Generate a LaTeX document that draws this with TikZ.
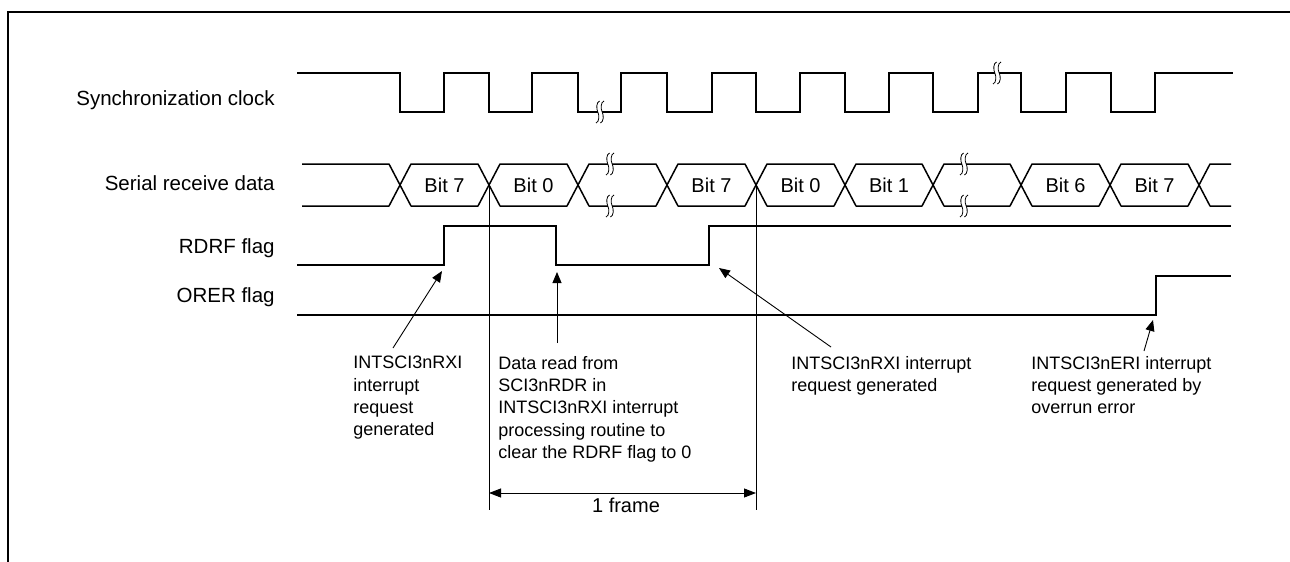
\documentclass[tikz,border=0pt]{standalone}
\usepackage{fontspec}
\setmainfont{Liberation Sans}
\usetikzlibrary{arrows.meta,calc}

\tikzset{
  sig/.style={line width=0.75pt},
  cell/.style={sig,line join=round},
  hair/.style={line width=0.45pt},
  ptr/.style={hair,-{Triangle[length=5.5pt,width=4.5pt]}},
  dimline/.style={hair,{Triangle[length=6pt,width=4.5pt]}-{Triangle[length=6pt,width=4.5pt]}},
  siglabel/.style={font=\fontsize{10.25}{12}\selectfont,anchor=base east,inner sep=0pt},
  bitlabel/.style={font=\fontsize{10}{12}\selectfont,anchor=base,inner sep=0pt},
  note/.style={font=\fontsize{9}{11.1}\selectfont,align=left,anchor=north west,inner sep=0pt},
  wavebreak/.pic={
    \fill[white] (-2.2,-2.5) rectangle (2.2,2.5);
    \foreach \d in {-2.2,2.2}
      \draw[line width=0.4pt] (\d+1.8,-11) .. controls (\d-1.6,-10) and (\d-1.6,-3) .. (\d,0)
            .. controls (\d+1.6,3) and (\d+1.6,10) .. (\d-1.8,11);
  }
}

\begin{document}
\begin{tikzpicture}[x=0.5pt,y=-0.5pt]
  \useasboundingbox (0,0) rectangle (1290,562);

  % Cadre
  \draw[line width=0.65pt] (8,562) -- (8,12) -- (1290,12);

  % Noms des signaux
  \node[siglabel] (lclk)  at (275,105) {Synchronization clock};
  \node[siglabel] (ldata) at (275,190) {Serial receive data};
  \node[siglabel] (lrdrf) at (275,253) {RDRF flag};
  \node[siglabel] (lorer) at (275,302) {ORER flag};

  % Horloge
  \draw[sig] (297,73)
    \foreach \a/\b in {400/444, 489/532, 578/621, 667/712, 756/800,
                       845/889, 933/978, 1021/1066, 1111/1155} {
      -- (\a,73) -- (\a,112) -- (\b,112) -- (\b,73)
    } -- (1233,73);

  % Données reçues
  \draw[cell] (302,164) -- (389,164) -- (400,185) -- (389,206) -- (302,206);
  \foreach \a/\b in {400/489, 489/578, 578/667, 667/756, 756/845,
                     845/933, 933/1021, 1021/1110, 1110/1199} {
    \draw[cell] (\a,185) -- (\a+11,164) -- (\b-11,164) -- (\b,185)
          -- (\b-11,206) -- (\a+11,206) -- cycle;
  }
  \draw[cell] (1231,164) -- (1210,164) -- (1199,185) -- (1210,206) -- (1231,206);
  \foreach \a/\b/\t in {400/489/Bit 7, 489/578/Bit 0, 667/756/Bit 7, 756/845/Bit 0,
                        845/933/Bit 1, 1021/1110/Bit 6, 1110/1199/Bit 7} {
    \node[bitlabel] (bit\a) at ({(\a+\b)/2},192.5) {\t};
  }

  % Ruptures
  \foreach \p in {(600,112), (997,73), (610,164), (610,206), (964,164), (964,206)} {
    \pic at \p {wavebreak};
  }

  % Drapeaux
  \draw[sig] (297,265) -- (444,265) -- (444,226) -- (556,226) -- (556,265)
        -- (709,265) -- (709,226) -- (1231,226);
  \draw[sig] (297,315) -- (1156,315) -- (1156,276) -- (1231,276);

  % Une trame
  \coordinate (frtopL) at (489,185);
  \coordinate (frtopR) at (756,185);
  \coordinate (frbotL) at (489,510);
  \coordinate (frbotR) at (756,510);
  \draw[hair] (frtopL) -- (frbotL);
  \draw[hair] (frtopR) -- (frbotR);
  \coordinate (frL) at (489,493);
  \coordinate (frR) at (756,493);
  \draw[dimline] (frL) -- (frR);
  \node[bitlabel] (lframe) at (626,512) {1 frame};

  % Commentaires
  \node[note] (noteA) at (353,356) {INTSCI3nRXI\\interrupt\\request\\generated};
  \node[note] (noteB) at (498,356) {Data read from\\SCI3nRDR in\\INTSCI3nRXI interrupt\\processing routine to\\clear the RDRF flag to 0};
  \node[note] (noteC) at (791,356) {INTSCI3nRXI interrupt\\request generated};
  \node[note] (noteD) at (1031,356) {INTSCI3nERI interrupt\\request generated by\\overrun error};

  \coordinate (tailA) at (393,348);  \coordinate (tipA) at (442,271);
  \coordinate (tailB) at (557,343);  \coordinate (tipB) at (557,272);
  \coordinate (tailC) at (831,347);  \coordinate (tipC) at (719,268);
  \coordinate (tailD) at (1144,351); \coordinate (tipD) at (1153,320);
  \draw[ptr] (tailA) -- (tipA);
  \draw[ptr] (tailB) -- (tipB);
  \draw[ptr] (tailC) -- (tipC);
  \draw[ptr] (tailD) -- (tipD);

\end{tikzpicture}
\end{document}
